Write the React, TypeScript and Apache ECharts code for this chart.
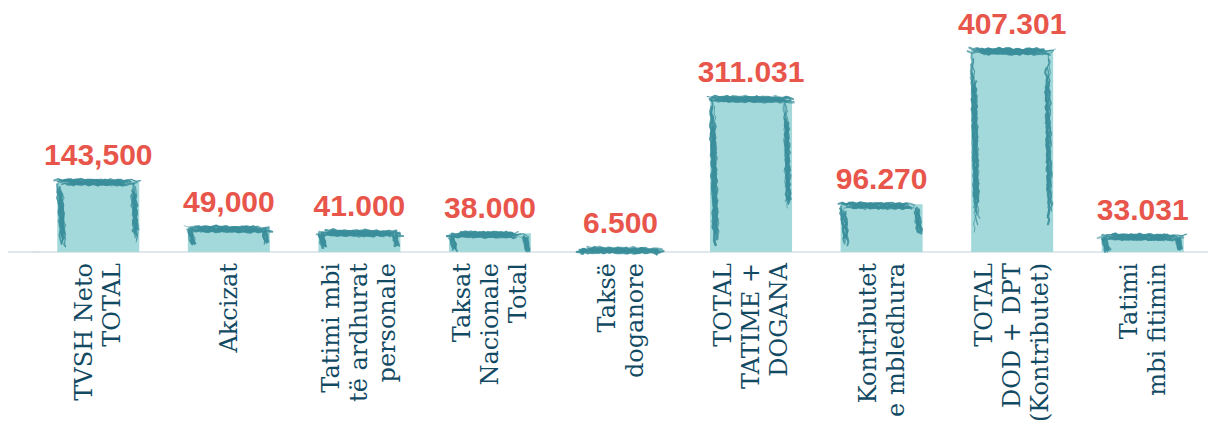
import React, { useEffect, useRef } from "react";
import * as echarts from "echarts";

const categories = [
  "TVSH Neto\nTOTAL",
  "Akcizat",
  "Tatimi mbi\ntë ardhurat\npersonale",
  "Taksat\nNacionale\nTotal",
  "Taksë\ndoganore",
  "TOTAL\nTATIME +\nDOGANA",
  "Kontributet\ne mbledhura",
  "TOTAL\nDOD + DPT\n(Kontributet)",
  "Tatimi\nmbi fitimin",
];
const values = [143.5, 49, 41, 38, 6.5, 311.031, 96.27, 407.301, 33.031];
const valueLabels = ["143,500", "49,000", "41.000", "38.000", "6.500", "311.031", "96.270", "407.301", "33.031"];

const FILL = "#a3d9da";
const INK = "#3a8e9b";
const RED = "#e8554b";
const AXIS = "#d6e0e4";
const LABEL = "#134a63";
const BAR_W = 82;

function scribble(xA: number, yA: number, xB: number, yB: number, seed: number, n: number, spread: number, wBase: number) {
  const out: any[] = [];
  const len = Math.max(1, Math.hypot(xB - xA, yB - yA));
  const nx = -(yB - yA) / len;
  const ny = (xB - xA) / len;
  const steps = Math.max(2, Math.round(len / 5));
  for (let s = 0; s < n; s++) {
    const pts: number[][] = [];
    const off = Math.sin(seed * 3.1 + s * 1.7) * spread;
    const cut0 = Math.abs(Math.sin(seed * 1.3 + s * 4.1)) * 0.2;
    const cut1 = 1 - Math.abs(Math.sin(seed * 2.7 + s * 3.3)) * 0.25;
    for (let k = 0; k <= steps; k++) {
      const t = cut0 + (cut1 - cut0) * (k / steps);
      const j = Math.sin(seed * 7.3 + s * 5.1 + k * 2.3) * 0.9 + Math.sin(k * 0.7 + s) * 0.5;
      pts.push([xA + (xB - xA) * t + nx * (off + j), yA + (yB - yA) * t + ny * (off + j)]);
    }
    out.push({
      type: "polyline",
      silent: true,
      shape: { points: pts },
      style: {
        stroke: INK,
        fill: null,
        lineWidth: wBase * (0.3 + 0.7 * Math.abs(Math.sin(seed + s * 2.9))),
        opacity: 0.5 + 0.4 * Math.abs(Math.cos(seed * 0.7 + s * 1.9)),
        lineCap: "round",
      },
    });
  }
  return out;
}

export default function App() {
  const ref = useRef<HTMLDivElement>(null);
  useEffect(() => {
    document.body.style.margin = "0";
    const chart = echarts.init(ref.current!, null, { renderer: "svg" });
    const option: any = {
      animation: false,
      backgroundColor: "#ffffff",
      grid: { left: 33, right: 0, top: 4, bottom: 176, containLabel: false },
      xAxis: {
        type: "category",
        data: categories,
        boundaryGap: true,
        axisTick: { show: false },
        axisLine: { lineStyle: { color: AXIS, width: 1.5 } },
        axisLabel: {
          interval: 0,
          rotate: 90,
          margin: 11,
          fontFamily: "DejaVu Serif",
          fontSize: 24,
          lineHeight: 28,
          color: LABEL,
        },
      },
      yAxis: {
        type: "value",
        min: 0,
        max: 500,
        show: false,
        splitLine: { show: false },
      },
      graphic: [
        { type: "line", silent: true, shape: { x1: 8, y1: 252, x2: 40, y2: 252 }, style: { stroke: AXIS, lineWidth: 1.5 }, z: -1 },
      ],
      series: [
        {
          type: "bar",
          data: values,
          barWidth: BAR_W,
          itemStyle: { color: FILL },
          label: {
            show: true,
            position: "top",
            distance: 11,
            fontFamily: "Liberation Sans",
            fontWeight: "bold",
            fontSize: 30,
            color: RED,
            formatter: (p: any) => valueLabels[p.dataIndex],
          },
          z: 2,
        },
        {
          type: "custom",
          data: values.map((v, i) => [i, v]),
          encode: { x: 0, y: 1 },
          z: 3,
          silent: true,
          renderItem: (params: any, api: any) => {
            const i = api.value(0);
            const v = api.value(1);
            const top = api.coord([i, v]);
            const base = api.coord([i, 0]);
            const x0 = top[0] - BAR_W / 2;
            const x1 = top[0] + BAR_W / 2;
            const yT = top[1];
            const h = base[1] - yT;
            const seed = i * 1.91 + 0.37;
            let children: any[] = [];
            // top edge
            children = children.concat(scribble(x0 - 4, yT + 1, x1 + 3, yT + 2, seed, 14, 2.2, 2.4));
            // left edge
            const leftLen = h > 20 ? h - 4 : Math.max(4, h);
            children = children.concat(scribble(x0 + 2, yT + 1, x0 + 6, yT + leftLen, seed + 5, 10, 2, 2.2));
            // right edge
            const rightLen = h > 20 ? h * (0.55 + 0.35 * Math.abs(Math.sin(seed * 4))) : Math.max(4, h);
            children = children.concat(scribble(x1 - 6, yT + 2, x1 - 3, yT + rightLen, seed + 9, 9, 1.8, 2.2));
            return { type: "group", children };
          },
        },
      ],
    };
    chart.setOption(option);
    return () => chart.dispose();
  }, []);
  return <div ref={ref} style={{ width: 1208, height: 428 }} />;
}
